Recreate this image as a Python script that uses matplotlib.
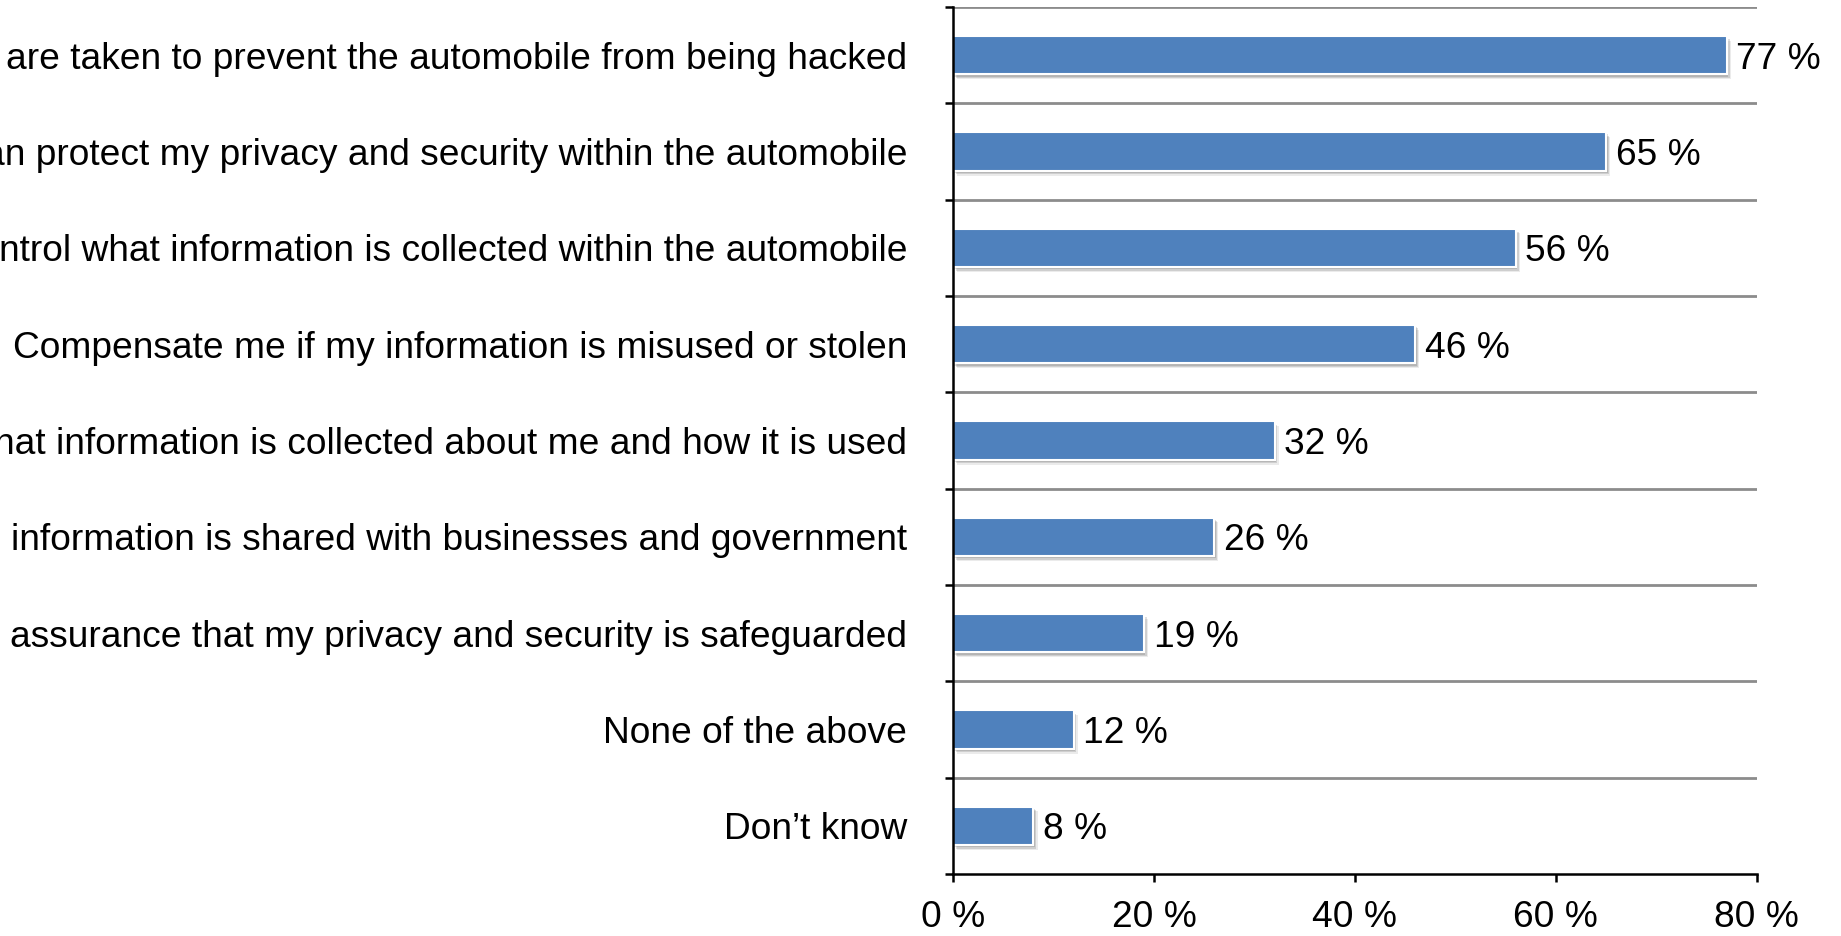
import matplotlib
matplotlib.use("Agg")
import matplotlib.pyplot as plt
import matplotlib.patheffects as pe
import numpy as np

# Survey answers, top to bottom
categories = [
    "are taken to prevent the automobile from being hacked",
    "an protect my privacy and security within the automobile",
    "ntrol what information is collected within the automobile",
    "Compensate me if my information is misused or stolen",
    "hat information is collected about me and how it is used",
    "information is shared with businesses and government",
    "assurance that my privacy and security is safeguarded",
    "None of the above",
    "Don\u2019t know",
]
shares = [77, 65, 56, 46, 32, 26, 19, 12, 8]
x_ticks = [0, 20, 40, 60, 80]

BAR_BLUE = "#4f81bd"
GRID_GREY = "#8c8c8c"

plt.rcParams["font.family"] = ["Liberation Sans", "DejaVu Sans"]
plt.rcParams["font.size"] = 26.7

fig = plt.figure(figsize=(18.41, 9.36), dpi=100)
ax = fig.add_axes([0.5177, 0.0662, 0.4366, 0.9263])

y = np.arange(len(categories))
shadow = [
    pe.SimplePatchShadow(offset=(1.0, -1.5), shadow_rgbFace="#000000", alpha=0.12),
    pe.SimplePatchShadow(offset=(2.0, -2.5), shadow_rgbFace="#000000", alpha=0.12),
    pe.SimplePatchShadow(offset=(3.0, -3.5), shadow_rgbFace="#000000", alpha=0.08),
    pe.Normal(),
]
bars = ax.barh(y, shares, height=0.4, color=BAR_BLUE, edgecolor="white",
               linewidth=1.5, zorder=3)
for b in bars:
    b.set_path_effects(shadow)

for yi, v in zip(y, shares):
    ax.annotate(f"{v} %", (v, yi), xytext=(7, 0), textcoords="offset points",
                ha="left", va="center_baseline", color="black", zorder=4)

ax.set_xlim(0, 80)
ax.set_ylim(len(categories) - 0.5, -0.5)

# horizontal separators between categories
for k in range(len(categories)):
    ax.axhline(k - 0.5, color=GRID_GREY, linewidth=2.0, zorder=1)

ax.set_yticks(y)
ax.set_yticklabels(categories)
ax.set_yticks(np.arange(len(categories) + 1) - 0.5, minor=True)
ax.tick_params(axis="y", which="major", length=0, pad=33)
ax.tick_params(axis="y", which="minor", length=6, width=1.8, direction="out")

ax.set_xticks(x_ticks)
ax.set_xticklabels([f"{t} %" for t in x_ticks])
ax.tick_params(axis="x", length=6, width=1.8, direction="out", pad=13)

for side in ("top", "right"):
    ax.spines[side].set_visible(False)
for side in ("left", "bottom"):
    ax.spines[side].set_linewidth(1.8)
    ax.spines[side].set_zorder(5)

fig.savefig("out.png", dpi=100, facecolor="white")
